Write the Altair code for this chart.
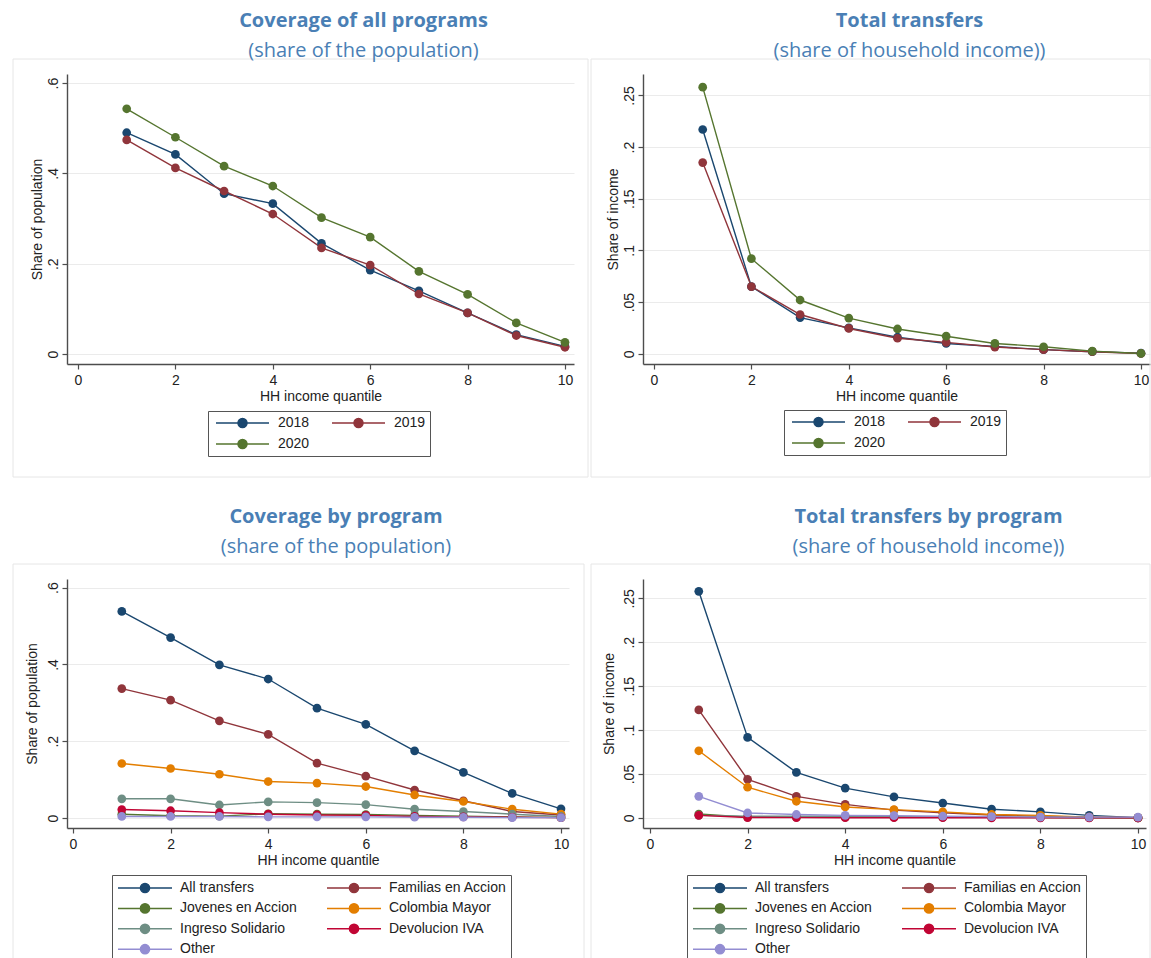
import altair as alt
import pandas as pd

quantiles = list(range(1, 11))

# ---- Coverage of all programs (share of population) ----
years = ["2018", "2019", "2020"]
cov_2018 = [0.490, 0.442, 0.355, 0.333, 0.245, 0.186, 0.140, 0.091, 0.043, 0.017]
cov_2019 = [0.474, 0.412, 0.361, 0.310, 0.235, 0.197, 0.133, 0.091, 0.041, 0.015]
cov_2020 = [0.543, 0.480, 0.416, 0.372, 0.302, 0.259, 0.183, 0.132, 0.069, 0.026]

# ---- Total transfers (share of household income) ----
tr_2018 = [0.217, 0.065, 0.035, 0.025, 0.016, 0.010, 0.007, 0.004, 0.002, 0.0006]
tr_2019 = [0.185, 0.065, 0.038, 0.0245, 0.015, 0.011, 0.0065, 0.004, 0.002, 0.0003]
tr_2020 = [0.258, 0.092, 0.052, 0.0345, 0.024, 0.017, 0.010, 0.0068, 0.0026, 0.0003]

# ---- Coverage by program ----
programs = ["All transfers", "Familias en Accion", "Jovenes en Accion", "Colombia Mayor",
            "Ingreso Solidario", "Devolucion IVA", "Other"]
pc_all = [0.538, 0.470, 0.399, 0.362, 0.286, 0.244, 0.175, 0.119, 0.064, 0.024]
pc_fam = [0.337, 0.307, 0.253, 0.218, 0.143, 0.109, 0.073, 0.045, 0.017, 0.008]
pc_jov = [0.010, 0.006, 0.005, 0.011, 0.010, 0.009, 0.007, 0.005, 0.003, 0.001]
pc_col = [0.142, 0.129, 0.114, 0.095, 0.091, 0.082, 0.060, 0.043, 0.023, 0.010]
pc_ing = [0.050, 0.050, 0.034, 0.042, 0.040, 0.035, 0.023, 0.017, 0.010, 0.004]
pc_dev = [0.022, 0.019, 0.014, 0.010, 0.008, 0.007, 0.004, 0.003, 0.002, 0.001]
pc_oth = [0.004, 0.004, 0.004, 0.003, 0.003, 0.003, 0.002, 0.002, 0.001, 0.001]

# ---- Total transfers by program ----
pt_all = [0.258, 0.0917, 0.052, 0.034, 0.024, 0.017, 0.010, 0.007, 0.003, 0.0004]
pt_fam = [0.123, 0.044, 0.0246, 0.0155, 0.009, 0.006, 0.0034, 0.002, 0.001, 0.0002]
pt_jov = [0.0045, 0.001, 0.001, 0.001, 0.001, 0.001, 0.0008, 0.0005, 0.0003, 0.0001]
pt_col = [0.0765, 0.035, 0.019, 0.0125, 0.0095, 0.007, 0.004, 0.003, 0.001, 0.0004]
pt_ing = [0.003, 0.002, 0.002, 0.002, 0.0015, 0.001, 0.001, 0.0008, 0.0005, 0.0002]
pt_dev = [0.003, 0.0005, 0.0004, 0.0003, 0.0003, 0.0003, 0.0002, 0.0002, 0.0001, 0.0001]
pt_oth = [0.0246, 0.0057, 0.004, 0.003, 0.0027, 0.002, 0.0015, 0.001, 0.001, 0.001]

x_ticks = [0, 2, 4, 6, 8, 10]
pop_ticks = [0, 0.2, 0.4, 0.6]
inc_ticks = [0, 0.05, 0.1, 0.15, 0.2, 0.25]

year_colors = ["#1a476f", "#90353b", "#55752f"]
prog_colors = ["#1a476f", "#90353b", "#55752f", "#e37e00", "#6e8e84", "#c10534", "#938dd2"]

TITLE_BLUE = "#4a7fb5"
TEXT = "#222222"
AXIS = "#4d4d4d"
SYMBOL = "M-1,0H1M-0.17,0A0.17,0.17 0 1,0 0.17,0A0.17,0.17 0 1,0 -0.17,0Z"


def long_df(names, series):
    rows = []
    for i, (n, vals) in enumerate(zip(names, series)):
        for q, v in zip(quantiles, vals):
            rows.append({"series": n, "ord": i, "q": q, "v": v})
    return pd.DataFrame(rows)


def panel(df, names, colors, xdom, ydom, yticks, w, h, title, subtitle, tdx, toff,
          ytitle, ytx, leg, box):
    xsc = alt.Scale(domain=xdom, nice=False, zero=False)
    ysc = alt.Scale(domain=ydom, nice=False, zero=False)
    xax = alt.Axis(values=x_ticks, title="HH income quantile", grid=False,
                   labelFlush=False, format="d")
    yax = alt.Axis(values=yticks, title=ytitle, grid=True,
                   labelExpr="datum.value == 0 ? '0' : replace(format(datum.value, '~g'), '0.', '.')",
                   labelAngle=-90, labelAlign="center", labelBaseline="alphabetic",
                   labelPadding=5,
                   titleX=ytx, titleY=h / 2, titleAngle=-90, titleAlign="center",
                   titleBaseline="middle")
    legend = alt.Legend(title=None, orient="none", legendX=leg["x"], legendY=leg["y"],
                        columns=2, direction="horizontal", gridAlign="all",
                        symbolType=SYMBOL, symbolSize=leg["size"], symbolStrokeWidth=1.5,
                        symbolOffset=leg["soff"], labelOffset=leg["loff"],
                        labelFont="Liberation Sans", labelFontSize=14, labelColor=TEXT,
                        strokeColor="#555555", fillColor="white", padding=4,
                        clipHeight=leg["clip"], rowPadding=leg["rpad"],
                        columnPadding=leg["cpad"])
    cscale = alt.Scale(domain=names, range=colors)

    boxdf = pd.DataFrame({"k": [0]})
    frame = alt.Chart(boxdf).mark_rect(stroke="#e6e6e6", strokeWidth=1, fillOpacity=0).encode(
        x=alt.value(box[0]), x2=alt.value(box[1]), y=alt.value(box[2]), y2=alt.value(box[3]))

    lines = alt.Chart(df).mark_line(strokeWidth=1.4).encode(
        x=alt.X("q:Q", scale=xsc, axis=xax),
        y=alt.Y("v:Q", scale=ysc, axis=yax),
        stroke=alt.Stroke("series:N", scale=cscale, legend=legend, sort=names),
    )
    points = alt.Chart(df).mark_circle(size=76, opacity=1).encode(
        x=alt.X("q:Q", scale=xsc, axis=xax),
        y=alt.Y("v:Q", scale=ysc, axis=yax),
        fill=alt.Fill("series:N", scale=cscale, legend=legend, sort=names),
        order=alt.Order("ord:Q"),
    )
    return alt.layer(frame, lines, points).properties(
        width=w, height=h,
        title=alt.TitleParams(text=title, subtitle=subtitle, anchor="middle", dx=tdx,
                              frame="group", offset=toff,
                              font="Open Sans", fontSize=20, fontWeight="bold",
                              color=TITLE_BLUE, subtitleFont="Open Sans",
                              subtitleFontSize=20, subtitleColor=TITLE_BLUE,
                              subtitlePadding=10),
    )


df_a = long_df(years, [cov_2018, cov_2019, cov_2020])
df_b = long_df(years, [tr_2018, tr_2019, tr_2020])
df_c = long_df(programs, [pc_all, pc_fam, pc_jov, pc_col, pc_ing, pc_dev, pc_oth])
df_d = long_df(programs, [pt_all, pt_fam, pt_jov, pt_col, pt_ing, pt_dev, pt_oth])

leg_top = {"size": 2809, "soff": 3, "loff": 8, "clip": 16, "rpad": 5, "cpad": 18}
leg_bot = {"size": 2916, "soff": 1, "loff": 7, "clip": 18, "rpad": 2.4, "cpad": 27}

a = panel(df_a, years, year_colors, [-0.226, 10.185], [-0.022, 0.620], pop_ticks, 507, 290,
          "Coverage of all programs", "(share of the population)", 43, -2,
          "Share of population", -30, dict(leg_top, x=141, y=337), (-54, 521, -15, 403))
b = panel(df_b, years, year_colors, [-0.226, 10.185], [-0.0099, 0.2707], inc_ticks, 507, 290,
          "Total transfers", "(share of household income))", 13, -2,
          "Share of income", -30, dict(leg_top, x=141, y=336), (-52, 507, -15, 403))
c = panel(df_c, programs, prog_colors, [-0.123, 10.164], [-0.026, 0.6225], pop_ticks, 502, 249,
          "Coverage by program", "(share of the population)", 18, 7,
          "Share of population", -35, dict(leg_bot, x=45, y=296), (-54, 517, -15, 400))
d = panel(df_d, programs, prog_colors, [-0.143, 10.164], [-0.0114, 0.272], inc_ticks, 503, 249,
          "Total transfers by program", "(share of household income))", 34, 7,
          "Share of income", -34, dict(leg_bot, x=44, y=296), (-52, 507, -15, 400))

chart = alt.concat(a, b, c, d, columns=2, spacing={"row": 215, "column": 69},
                   bounds="flush", align="each").resolve_scale(
    stroke="independent", fill="independent"
).resolve_legend(
    stroke="independent", fill="independent"
).properties(
    padding={"left": 12, "top": 10, "right": 0, "bottom": 0},
    background="white",
).configure_view(stroke=None).configure_axis(
    domainColor=AXIS, domainWidth=1.4, tickColor=AXIS, tickWidth=1.2, tickSize=5,
    labelFont="Liberation Sans", labelFontSize=14, labelColor=TEXT, labelPadding=3,
    titleFont="Liberation Sans", titleFontSize=14, titleColor=TEXT, titleFontWeight="normal",
    gridColor="#ebebeb", gridWidth=1,
).configure_axisX(labelPadding=4, titlePadding=2)

chart.save("out.html", embed_options={"renderer": "svg", "actions": False})
